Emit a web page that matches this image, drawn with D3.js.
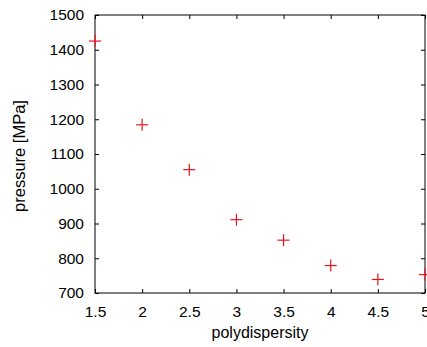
<!DOCTYPE html>
<html>
<head>
<meta charset="utf-8">
<script src="https://cdn.jsdelivr.net/npm/d3@7"></script>
<style>
    body { margin: 0; background: #fff; }
    svg { display: block; }
    text { font-family: "Liberation Sans", Arial, sans-serif; fill: #000; }
</style>
</head>
<body>
<div id="chart"></div>
<script>
// values
let polydispersity = [1.5, 2, 2.5, 3, 3.5, 4, 4.5, 5];
let pressure = [1425, 1184, 1055, 911, 852, 779, 739, 753];
let xTicks = [1.5, 2, 2.5, 3, 3.5, 4, 4.5, 5];
let yTicks = [700, 800, 900, 1000, 1100, 1200, 1300, 1400, 1500];

let width = 427, height = 347;
let margin = {top: 15, right: 2, bottom: 54, left: 95};
let plotW = width - margin.left - margin.right,
    plotH = height - margin.top - margin.bottom;

let svg = d3.select("#chart")
    .append("svg")
    .attr("width", width)
    .attr("height", height);

let g = svg.append("g")
    .attr("transform", "translate(" + margin.left + "," + margin.top + ")");

let xScale = d3.scaleLinear().domain([1.5, 5]).range([0, plotW]);
let yScale = d3.scaleLinear().domain([700, 1500]).range([plotH, 0]);

// gnuplot style: ticks pointing inward on all four sides
function styleAxis(sel) {
    sel.select(".domain").remove();
    sel.selectAll(".tick line").attr("stroke", "#000");
    sel.selectAll(".tick text")
        .attr("font-size", "15.5px")
        .attr("font-family", "Liberation Sans, Arial, sans-serif")
        .attr("fill", "#000");
}

g.append("g")
    .attr("transform", "translate(0," + plotH + ")")
    .call(d3.axisBottom(xScale).tickValues(xTicks).tickSize(-4).tickPadding(13)
        .tickFormat(d3.format("")))
    .call(styleAxis);

g.append("g")
    .call(d3.axisTop(xScale).tickValues(xTicks).tickSize(-4).tickFormat(""))
    .call(styleAxis);

g.append("g")
    .call(d3.axisLeft(yScale).tickValues(yTicks).tickSize(-4).tickPadding(11)
        .tickFormat(d3.format("")))
    .call(styleAxis);

g.append("g")
    .attr("transform", "translate(" + plotW + ",0)")
    .call(d3.axisRight(yScale).tickValues(yTicks).tickSize(-4).tickFormat(""))
    .call(styleAxis);

// frame
g.append("rect")
    .attr("x", 0)
    .attr("y", 0)
    .attr("width", plotW)
    .attr("height", plotH)
    .attr("fill", "none")
    .attr("stroke", "#000")
    .attr("stroke-width", 1);

// data points as plus markers
let arm = 6;
let points = g.selectAll(".point")
    .data(polydispersity.map((x, i) => ({x: x, y: pressure[i]})))
    .enter().append("g")
    .attr("class", "point")
    .attr("transform", d => "translate(" + xScale(d.x) + "," + yScale(d.y) + ")");

points.append("line")
    .attr("x1", -arm).attr("x2", arm).attr("y1", 0).attr("y2", 0)
    .attr("stroke", "#e8141c").attr("stroke-width", 1.2);
points.append("line")
    .attr("x1", 0).attr("x2", 0).attr("y1", -arm).attr("y2", arm)
    .attr("stroke", "#e8141c").attr("stroke-width", 1.2);

// axis labels
svg.append("text")
    .attr("x", margin.left + plotW / 2)
    .attr("y", 338)
    .attr("text-anchor", "middle")
    .attr("font-size", "16px")
    .text("polydispersity");

svg.append("text")
    .attr("transform", "translate(25," + (margin.top + plotH / 2 + 2) + ") rotate(-90)")
    .attr("text-anchor", "middle")
    .attr("font-size", "16.5px")
    .text("pressure [MPa]");
</script>
</body>
</html>
